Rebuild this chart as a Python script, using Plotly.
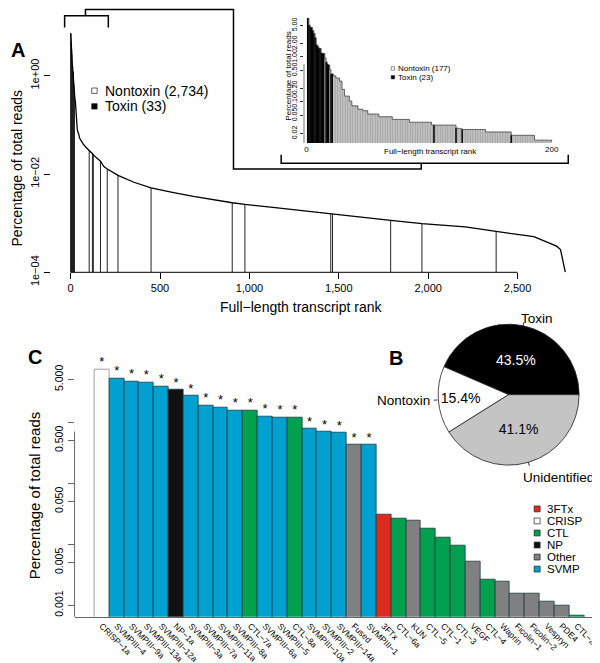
import math
import plotly.graph_objects as go

W, H = 600, 663
FONT = "Liberation Sans"

# ---------------- data ----------------
n_transcripts = 2767

toxin_names = ["CRISP-1a", "SVMPIII-4", "SVMPIII-9a", "SVMPIII-13a", "SVMPIII-12a", "NP-1a",
               "SVMPIII-3a", "SVMPIII-7a", "SVMPIII-11a", "SVMPIII-8a", "CTL-7a", "SVMPIII-6a",
               "SVMPIII-5", "CTL-8a", "SVMPIII-10a", "SVMPIII-2", "SVMPIII-14a", "Fused",
               "SVMPIII-1", "3FTx", "CTL-6a", "KUN", "CTL-5", "CTL-1", "CTL-3", "VEGF", "CTL-4",
               "Waprin", "Ficolin-1", "Ficolin-2", "Vespryn", "PDE4", "CTL-2"]
toxin_values = [7.34, 5.13, 4.59, 4.49, 3.87, 3.34, 2.68, 1.87, 1.72, 1.56, 1.54, 1.23, 1.20,
                1.19, 0.77, 0.69, 0.66, 0.42, 0.42, 0.0306, 0.0264, 0.0245, 0.0182, 0.0126,
                0.0094, 0.0052, 0.0026, 0.0024, 0.00155, 0.00155, 0.00114, 0.00098, 0.00068]
toxin_classes = ["CRISP", "SVMP", "SVMP", "SVMP", "SVMP", "NP", "SVMP", "SVMP", "SVMP", "SVMP",
                 "CTL", "SVMP", "SVMP", "CTL", "SVMP", "SVMP", "SVMP", "Other", "SVMP", "3FTx",
                 "CTL", "Other", "CTL", "CTL", "CTL", "Other", "CTL", "Other", "Other", "Other",
                 "Other", "Other", "CTL"]
toxin_significant = [True, True, True, True, True, True, True, True, True, True, True, True,
                     True, True, True, True, True, True, True, False, False, False, False, False,
                     False, False, False, False, False, False, False, False, False]
toxin_ranks = [1, 2, 3, 4, 5, 6, 7, 8, 9, 10, 11, 12, 13, 14, 16, 17, 18, 20, 21, 104, 122, 127,
               167, 205, 265, 450, 904, 975, 1455, 1465, 1790, 1965, 2380]

nontoxin_ranks = [15, 19, 22, 24, 27, 29, 31, 35, 37, 42, 46, 50, 59, 70, 84, 102, 124, 146, 186,
                  200, 261, 354, 576, 687, 1131, 1317, 2207, 2591, 2718, 2740, 2767]
nontoxin_values = [0.95, 0.52, 0.38, 0.34, 0.29, 0.19, 0.135, 0.105, 0.082, 0.069, 0.064, 0.054,
                   0.047, 0.041, 0.0355, 0.031, 0.0255, 0.0216, 0.0142, 0.0130, 0.0096, 0.0068,
                   0.0042, 0.0035, 0.0021, 0.00175, 0.00084, 0.00053, 0.00034, 0.00029, 0.0001]

class_order = ["3FTx", "CRISP", "CTL", "NP", "Other", "SVMP"]
class_colors = ["#DC2A1E", "#FFFFFF", "#00A04E", "#111111", "#808080", "#00A0D0"]

pie_labels = ["Toxin", "Nontoxin", "Unidentified"]
pie_values = [43.5, 15.4, 41.1]
pie_colors = ["#000000", "#FFFFFF", "#C4C4C4"]
pie_text_colors = ["white", "black", "black"]

inset_top = 200
main_xticks = [0, 500, 1000, 1500, 2000, 2500]
main_xticklabels = ["0", "500", "1,000", "1,500", "2,000", "2,500"]
main_yticks = [1e-4, 1e-2, 1]
main_yticklabels = ["1e\u221204", "1e\u221202", "1e+00"]
inset_yticks = [0.02, 0.05, 0.1, 0.2, 0.5, 1, 2, 5]
inset_yticklabels = ["0.02", "0.05", "0.10", "0.20", "0.50", "1.00", "2.00", "5.00"]
c_yticks = [0.001, 0.005, 0.01, 0.05, 0.1, 0.5, 1, 5]
c_yticklabels = ["0.001", "0.005", "", "0.050", "", "0.500", "", "5.000"]


def X(px):
    return px / W


def Y(py):
    return 1 - py / H


# combined curve
pairs = sorted(list(zip(toxin_ranks, toxin_values)) + list(zip(nontoxin_ranks, nontoxin_values)))
curve_r = [p[0] for p in pairs]
curve_v = [p[1] for p in pairs]

n_toxin = len(toxin_ranks)
n_nontoxin = n_transcripts - n_toxin
n_toxin_top = sum(1 for r in toxin_ranks if r <= inset_top)
n_nontoxin_top = inset_top - n_toxin_top

fig = go.Figure()

# ---------------- Panel A main ----------------
main_ymin_log = -4
lx, ly = [], []
for r, v in zip(toxin_ranks, toxin_values):
    lx += [r, r, None]
    ly += [10 ** main_ymin_log, v, None]
fig.add_trace(go.Scatter(x=lx, y=ly, mode="lines", line=dict(color="#222222", width=1),
                         xaxis="x", yaxis="y", hoverinfo="skip"))
fig.add_trace(go.Scatter(x=curve_r, y=curve_v, mode="lines", line=dict(color="black", width=1.3),
                         xaxis="x", yaxis="y", hoverinfo="skip"))

# ---------------- Panel A inset ----------------
inset_ymin_log = -1.913
ir = [r for r in curve_r if r <= inset_top]
iv = [v for r, v in zip(curve_r, curve_v) if r <= inset_top]
fig.add_trace(go.Scatter(x=ir, y=iv, mode="lines", fill="tozeroy",
                         fillpattern=dict(shape="|", fgcolor="#505050", bgcolor="#f4f4f4",
                                          size=2.5, solidity=0.75),
                         line=dict(color="#444444", width=0.8, shape="hv"),
                         xaxis="x2", yaxis="y2", hoverinfo="skip"))
tx_, ty_ = [], []
for r, v in zip(toxin_ranks, toxin_values):
    if r <= inset_top:
        tx_ += [r, r, None]
        ty_ += [10 ** inset_ymin_log, v, None]
fig.add_trace(go.Scatter(x=tx_, y=ty_, mode="lines", line=dict(color="black", width=1.5),
                         xaxis="x2", yaxis="y2", hoverinfo="skip"))

# ---------------- Panel C ----------------
cmap = dict(zip(class_order, class_colors))
bar_colors = [cmap[c] for c in toxin_classes]
bar_lines = ["#888888" if c == "CRISP" else "#1c3a40" for c in toxin_classes]
fig.add_trace(go.Bar(x=toxin_names, y=toxin_values, width=1,
                     marker=dict(color=bar_colors, line=dict(color=bar_lines, width=0.8)),
                     xaxis="x3", yaxis="y3", hoverinfo="skip"))
sx = [n for n, s in zip(toxin_names, toxin_significant) if s]
sy = [v for v, s in zip(toxin_values, toxin_significant) if s]
fig.add_trace(go.Scatter(x=sx, y=sy, mode="text", text=["*"] * len(sx), textposition="top center",
                         textfont=dict(family=FONT, size=13, color="black"),
                         xaxis="x3", yaxis="y3", hoverinfo="skip", cliponaxis=False))

# ---------------- Panel B pie ----------------
pie_cx, pie_cy, pie_r = 504, 395, 72
tot = sum(pie_values)
# first slice runs counterclockwise from 3 o'clock (R default)
pie_rotation = 90 - 360 * pie_values[0] / tot
fig.add_trace(go.Pie(labels=pie_labels, values=pie_values, sort=False, direction="counterclockwise",
                     rotation=pie_rotation,
                     marker=dict(colors=pie_colors, line=dict(color="#222222", width=0.8)),
                     texttemplate="%{value:.1f}%", textposition="inside",
                     insidetextorientation="horizontal",
                     textfont=dict(family=FONT, size=14, color=pie_text_colors),
                     domain=dict(x=[X(pie_cx - pie_r), X(pie_cx + pie_r)],
                                 y=[Y(pie_cy + pie_r), Y(pie_cy - pie_r)]),
                     hoverinfo="skip", showlegend=False))

shapes = []
annotations = []


def ann(text, px, py, size, xanchor="center", angle=0, bold=False, color="black"):
    annotations.append(dict(text=("<b>%s</b>" % text) if bold else text, x=X(px), y=Y(py),
                            xref="paper", yref="paper", showarrow=False, xanchor=xanchor,
                            yanchor="middle", textangle=angle,
                            font=dict(family=FONT, size=size, color=color)))


def line(x0, y0, x1, y1, w=1.5, color="black"):
    shapes.append(dict(type="line", xref="paper", yref="paper", x0=X(x0), y0=Y(y0), x1=X(x1),
                       y1=Y(y1), line=dict(color=color, width=w)))


def square(cx, cy, s, fill, lw=0.7):
    shapes.append(dict(type="rect", xref="paper", yref="paper", x0=X(cx - s / 2), x1=X(cx + s / 2),
                       y0=Y(cy + s / 2), y1=Y(cy - s / 2), fillcolor=fill,
                       line=dict(color="#222222", width=lw)))


# pie outer labels with tick lines (R style)
start = 0.0
for lab, val in zip(pie_labels, pie_values):
    mid = math.radians((start + val / 2) / tot * 360)
    start += val
    c, s = math.cos(mid), math.sin(mid)
    line(pie_cx + pie_r * c, pie_cy - pie_r * s, pie_cx + 1.05 * pie_r * c, pie_cy - 1.05 * pie_r * s,
         w=0.8)
    tx, ty = pie_cx + 1.1 * pie_r * c, pie_cy - 1.1 * pie_r * s
    if s < -0.5:
        ty += 8
        tx -= 3
    ann(lab, tx + (-6 if c > 0 else 2), ty, 13.5, xanchor="left" if c > 0 else "right")

# axis lines (R style, spanning tick range only)
shapes.append(dict(type="line", xref="x", yref="y domain", x0=main_xticks[0], x1=main_xticks[-1],
                   y0=0, y1=0, line=dict(color="black", width=1)))
shapes.append(dict(type="line", xref="x domain", yref="y", x0=0, x1=0,
                   y0=math.log10(main_yticks[0]), y1=math.log10(main_yticks[-1]),
                   line=dict(color="black", width=1)))
shapes.append(dict(type="line", xref="x2 domain", yref="y2", x0=0, x1=0,
                   y0=math.log10(inset_yticks[0]), y1=math.log10(inset_yticks[-1]),
                   line=dict(color="#333333", width=0.7)))
shapes.append(dict(type="line", xref="x3 domain", yref="y3", x0=0, x1=0,
                   y0=math.log10(c_yticks[0]), y1=math.log10(c_yticks[-1]),
                   line=dict(color="#666666", width=1)))

# brackets linking main panel to inset
shapes.append(dict(type="path", xref="paper", yref="paper",
                   path="M %f %f L %f %f L %f %f L %f %f" % (X(57), Y(20), X(57), Y(8), X(101), Y(8), X(101), Y(20)),
                   line=dict(color="black", width=1.5)))
shapes.append(dict(type="path", xref="paper", yref="paper",
                   path="M %f %f L %f %f L %f %f L %f %f L %f %f L %f %f" % (
                       X(78), Y(8), X(78), Y(1.5), X(227), Y(1.5), X(227), Y(164.5), X(416), Y(164.5), X(416), Y(158.5)),
                   line=dict(color="black", width=1.5)))
shapes.append(dict(type="path", xref="paper", yref="paper",
                   path="M %f %f L %f %f L %f %f L %f %f" % (X(275), Y(150), X(275), Y(158.5), X(564), Y(158.5), X(564), Y(150)),
                   line=dict(color="black", width=1.5)))

# panel letters and titles
ann("A", 10, 43, 20, bold=True)
ann("B", 391, 358, 20, bold=True)
ann("C", 27, 357, 20, bold=True)
ann("Percentage of total reads", 9, 164, 14, angle=-90)
ann("Full\u2212length transcript rank", 295, 305, 14)
ann("Percentage of total reads", 282, 70, 8, angle=-90)
ann("Full\u2212length transcript rank", 425, 147, 8)
ann("Percentage of total reads", 27, 498, 15, angle=-90)

# legend A
square(87, 84.5, 5.5, "white")
square(87, 100.5, 5.5, "black")
ann("Nontoxin (%s)" % format(n_nontoxin, ","), 96, 84.5, 14, xanchor="left")
ann("Toxin (%d)" % n_toxin, 96, 100.5, 14, xanchor="left")
# inset legend
square(387.5, 61.7, 3.5, "white", lw=0.5)
square(387.5, 70.7, 3.5, "black", lw=0.5)
ann("Nontoxin (%d)" % n_nontoxin_top, 391, 61.7, 8, xanchor="left")
ann("Toxin (%d)" % n_toxin_top, 391, 70.7, 8, xanchor="left")
# legend C
for i, (cl, col) in enumerate(zip(class_order, class_colors)):
    yy = 511.7 + i * 12.3
    square(532.7, yy, 6, col, lw=0.7)
    ann(cl, 541, yy, 11.5, xanchor="left")

axis_common = dict(showgrid=False, zeroline=False, showline=False,
                   tickfont=dict(family=FONT, size=11, color="black"))

fig.update_layout(
    width=W, height=H, margin=dict(l=0, r=0, t=0, b=0),
    paper_bgcolor="white", plot_bgcolor="rgba(0,0,0,0)", showlegend=False,
    font=dict(family=FONT, color="black"),
    xaxis=dict(domain=[X(43.1), X(581)], range=[-110.7, 2877.7], anchor="y",
               tickvals=main_xticks, ticktext=main_xticklabels, ticks="outside", ticklen=6,
               tickcolor="black", **axis_common),
    yaxis=dict(domain=[Y(270), Y(25)], type="log", range=[-4, 0.88], anchor="x",
               tickvals=main_yticks, ticktext=main_yticklabels, ticks="outside", ticklen=6,
               tickcolor="black", tickangle=-90, **axis_common),
    xaxis2=dict(domain=[X(298), X(551)], range=[-2, 203], anchor="y2",
                tickvals=[0, inset_top], ticktext=["0", str(inset_top)], ticks="",
                showgrid=False, zeroline=False, showline=False,
                tickfont=dict(family=FONT, size=8, color="black")),
    yaxis2=dict(domain=[Y(138), Y(10)], type="log", range=[inset_ymin_log, 0.87], anchor="x2",
                tickvals=inset_yticks, ticktext=inset_yticklabels, ticks="outside", ticklen=3,
                tickcolor="#333333", tickangle=-90, showgrid=False, zeroline=False, showline=False,
                tickfont=dict(family=FONT, size=7, color="black")),
    xaxis3=dict(domain=[X(67), X(600)], type="category", range=[-1.84, 33.84], anchor="y3",
                tickvals=toxin_names, ticktext=[n.replace("-", "\u2212") for n in toxin_names],
                tickangle=45, ticks="", showgrid=False, zeroline=False, showline=True,
                linecolor="#666666", linewidth=1,
                tickfont=dict(family=FONT, size=8.5, color="black")),
    yaxis3=dict(domain=[Y(622), Y(350)], type="log", range=[-3.193, 1.171], anchor="x3",
                tickvals=c_yticks, ticktext=c_yticklabels, ticks="outside", ticklen=6,
                tickcolor="#666666", tickangle=-90, showgrid=False, zeroline=False, showline=False,
                tickfont=dict(family=FONT, size=10.5, color="black")),
    shapes=shapes, annotations=annotations, bargap=0,
)

fig.write_html("out.html")
